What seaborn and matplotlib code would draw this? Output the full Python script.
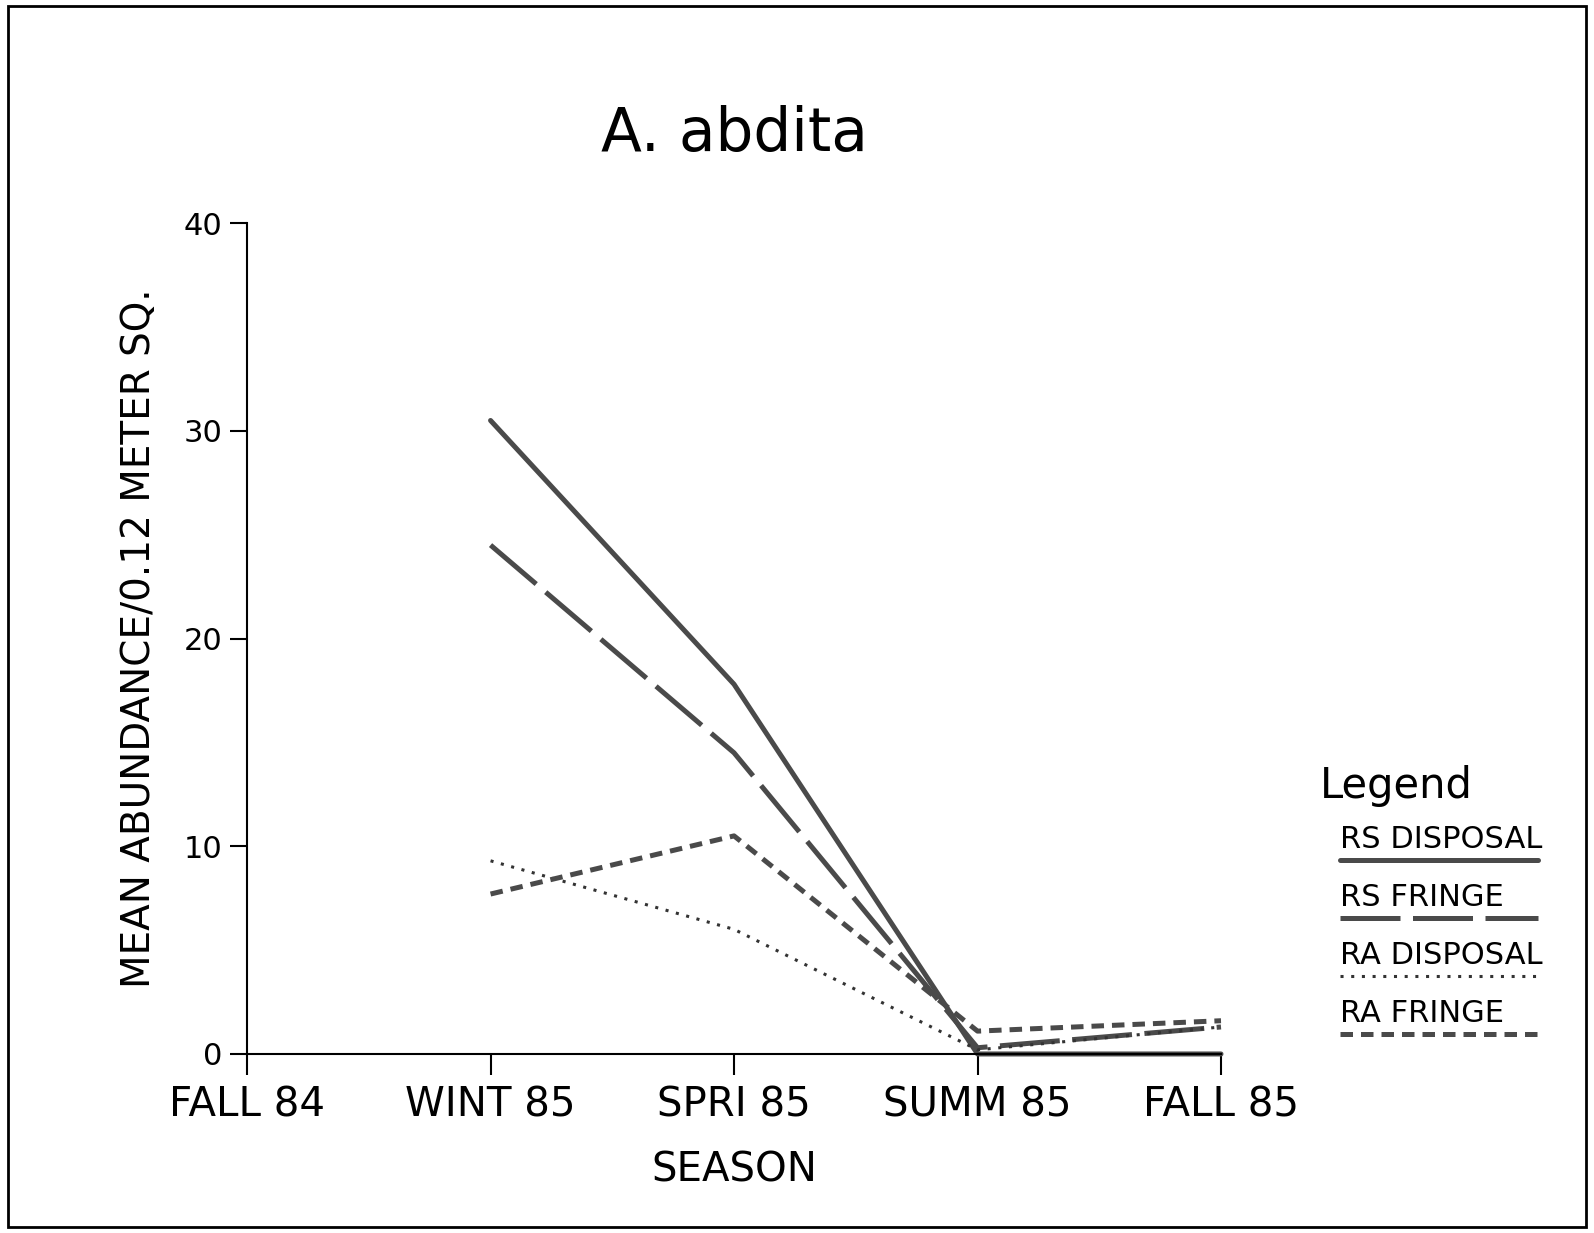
import pandas as pd
import matplotlib.pyplot as plt
import seaborn as sns
from matplotlib.lines import Line2D
from matplotlib.patches import Rectangle

# values
seasons = ['FALL 84', 'WINT 85', 'SPRI 85', 'SUMM 85', 'FALL 85']
series = ['RS DISPOSAL', 'RS FRINGE', 'RA DISPOSAL', 'RA FRINGE']
rs_disposal = [None, 30.5, 17.8, 0.0, 0.0]
rs_fringe = [None, 24.5, 14.5, 0.3, 1.3]
ra_disposal = [None, 9.3, 6.0, 0.2, 1.3]
ra_fringe = [None, 7.7, 10.5, 1.1, 1.6]

rows = []
for name, vals in zip(series, [rs_disposal, rs_fringe, ra_disposal, ra_fringe]):
    for i, v in enumerate(vals):
        if v is not None:
            rows.append({'season': i, 'abund': v, 'site': name})
df = pd.DataFrame(rows)

sns.set_style('white')
plt.rcParams['font.family'] = ['DejaVu Sans']
plt.rcParams['text.color'] = 'black'
plt.rcParams['axes.labelcolor'] = 'black'
plt.rcParams['xtick.color'] = 'black'
plt.rcParams['ytick.color'] = 'black'

fig = plt.figure(figsize=(15.94, 12.33), dpi=100)
ax = fig.add_axes([0.155, 0.1452, 0.611, 0.6738])

grey = '#4a4a4a'
dash_map = {'RS DISPOSAL': '', 'RS FRINGE': (12, 2.5),
            'RA DISPOSAL': (1, 2.5), 'RA FRINGE': (2.5, 1.6)}
widths = {'RS DISPOSAL': 3.6, 'RS FRINGE': 3.6, 'RA DISPOSAL': 2.2, 'RA FRINGE': 3.6}
colors = {'RS DISPOSAL': grey, 'RS FRINGE': grey, 'RA DISPOSAL': '#333333', 'RA FRINGE': grey}

for name in series:
    sub = df[df.site == name]
    sns.lineplot(data=sub, x='season', y='abund', ax=ax, color=colors[name],
                 lw=widths[name], legend=False, clip_on=False)
    ln = ax.lines[-1]
    if name != 'RS DISPOSAL':
        ln.set_dashes(dash_map[name])

ax.set_xlim(0, 4)
ax.set_ylim(0, 40)
ax.set_xticks(range(len(seasons)))
ax.set_xticklabels(seasons, fontsize=29)
ax.set_yticks([0, 10, 20, 30, 40])
ax.set_yticklabels(['0', '10', '20', '30', '40'], fontsize=22)
ax.tick_params(axis='x', direction='out', length=15, width=1.5, pad=8, bottom=True)
ax.tick_params(axis='y', direction='out', length=12, width=1.5, pad=6, left=True)
for s in ['top', 'right']:
    ax.spines[s].set_visible(False)
for s in ['left', 'bottom']:
    ax.spines[s].set_color('black')
    ax.spines[s].set_linewidth(1.5)
ax.set_xlabel('SEASON', fontsize=29, labelpad=18)
ax.set_ylabel('MEAN ABUNDANCE/0.12 METER SQ.', fontsize=28, labelpad=18)
ax.set_title('A. abdita', fontsize=43, pad=52)

# hand-made legend like the original
fig.text(1320 / 1594, 1 - 798 / 1233, 'Legend', fontsize=30, ha='left', va='baseline')
ys = [840, 898, 956, 1014]
for name, y in zip(series, ys):
    fig.text(1340 / 1594, 1 - y / 1233, name, fontsize=22, ha='left', va='center')
    l = Line2D([1340 / 1594, 1538 / 1594], [1 - (y + 20) / 1233] * 2, transform=fig.transFigure,
               color=colors[name], lw=widths[name])
    if name != 'RS DISPOSAL':
        l.set_dashes(dash_map[name])
    fig.add_artist(l)

fig.add_artist(Rectangle((0.005, 0.005), 0.99, 0.99, transform=fig.transFigure,
                         fill=False, ec='black', lw=2))

fig.savefig('out.png', dpi=100)
